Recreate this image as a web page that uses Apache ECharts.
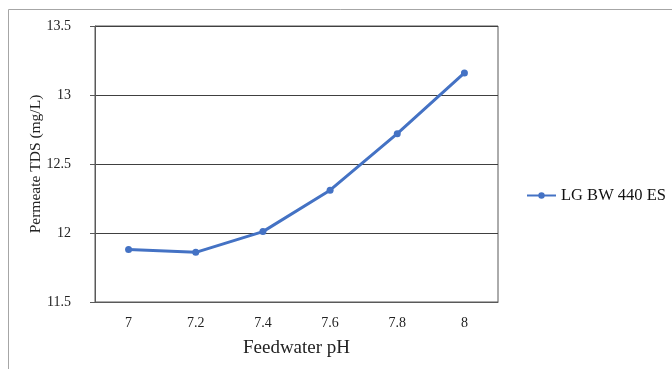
<!DOCTYPE html>
<html lang="en">
<head>
  <meta charset="UTF-8">
  <title>Permeate TDS vs Feedwater pH</title>
  <script src="https://cdn.jsdelivr.net/npm/echarts@6/dist/echarts.min.js"></script>
  <style>
    html, body { margin: 0; padding: 0; background: #fff; }
    #main { width: 672px; height: 369px; }
  </style>
</head>
<body>
<div id="main"></div>
<script>
  // 数据
  var phValues = ['7', '7.2', '7.4', '7.6', '7.8', '8'];
  var tdsValues = [11.88, 11.86, 12.01, 12.31, 12.72, 13.16];
  var seriesName = 'LG BW 440 ES';

  var serif = '"Liberation Serif", "DejaVu Serif", serif';
  var myChart = echarts.init(document.getElementById('main'));
  var option = {
    animation: false,
    backgroundColor: '#fff',
    textStyle: { fontFamily: serif },
    graphic: [
      { type: 'rect', shape: { x: 8.5, y: 9.5, width: 700, height: 400 },
        style: { fill: 'none', stroke: '#a6a6a6', lineWidth: 1 } }
    ],
    grid: {
      left: 95, top: 26, right: 174, bottom: 67,
      show: true, borderColor: '#595959', borderWidth: 1
    },
    legend: {
      data: [seriesName],
      left: 521, top: 182,
      itemWidth: 29, itemHeight: 8, itemGap: 4,
      textStyle: { fontFamily: serif, fontSize: 16.5, color: '#111' }
    },
    xAxis: {
      type: 'category',
      data: phValues,
      name: 'Feedwater pH',
      nameLocation: 'middle',
      nameGap: 37,
      nameMoveOverlap: false,
      nameTextStyle: { fontFamily: serif, fontSize: 19, color: '#222' },
      axisLine: { lineStyle: { color: '#595959' } },
      axisTick: { show: false },
      axisLabel: { fontFamily: serif, fontSize: 14, color: '#222', margin: 14 }
    },
    yAxis: {
      type: 'value',
      min: 11.5, max: 13.5, interval: 0.5,
      name: 'Permeate TDS (mg/L)',
      nameLocation: 'middle',
      nameGap: 51,
      nameMoveOverlap: false,
      nameTextStyle: { fontFamily: serif, fontSize: 15.5, color: '#222' },
      axisLine: { show: true, lineStyle: { color: '#595959' } },
      axisTick: { show: true, length: 5, lineStyle: { color: '#595959' } },
      axisLabel: { fontFamily: serif, fontSize: 14, color: '#222', margin: 24 },
      splitLine: { lineStyle: { color: '#404040', width: 1 } }
    },
    series: [
      {
        name: seriesName,
        type: 'line',
        data: tdsValues,
        symbol: 'circle',
        symbolSize: 7,
        lineStyle: { color: '#4472C4', width: 3 },
        itemStyle: { color: '#4472C4' }
      }
    ]
  };
  myChart.setOption(option);
</script>
</body>
</html>
